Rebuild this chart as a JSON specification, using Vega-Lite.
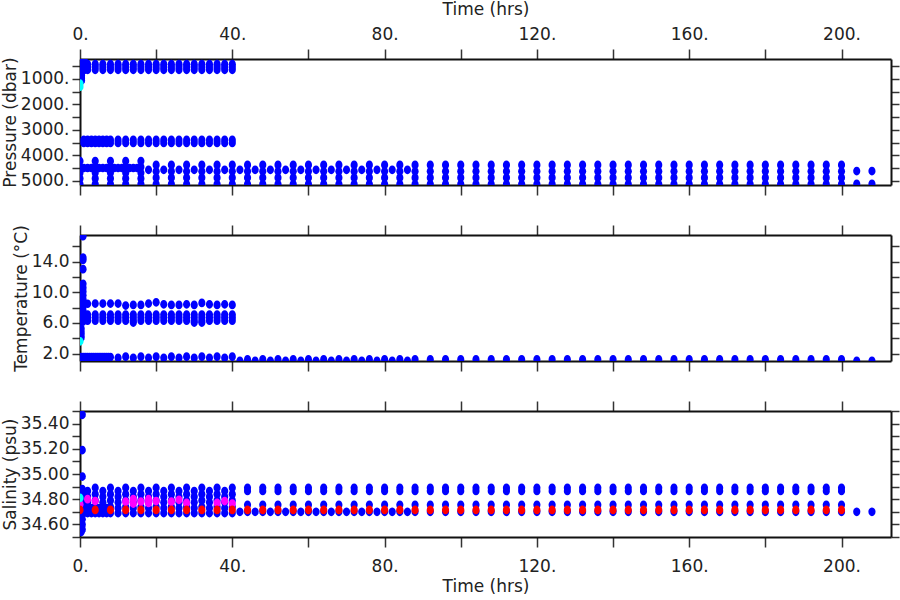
{
"$schema":"https://vega.github.io/schema/vega-lite/v6.json",
"background":"white",
"padding":{"left":1,"top":0,"right":0,"bottom":0},
"bounds":"flush",
"spacing":50,
"config":{"view":{"stroke":null},"font":"DejaVu Sans",
"axis":{"grid":false,"domainColor":"#111","domainWidth":2,"tickColor":"#333","tickWidth":1.5,"labelFont":"DejaVu Sans","labelFontSize":17,"labelColor":"#222","titleFont":"DejaVu Sans","titleFontSize":17,"titleFontWeight":"normal","titleColor":"#222","labelOverlap":false,"labelFlush":false,"labelBound":false}},
"datasets":{
"p":[
{"t":0.4,"v":260,"c":"b"},{"t":0.4,"v":360,"c":"b"},{"t":0.4,"v":460,"c":"b"},{"t":0.4,"v":560,"c":"b"},{"t":0.4,"v":660,"c":"b"},{"t":0.4,"v":760,"c":"b"},{"t":0.4,"v":860,"c":"b"},{"t":0.4,"v":960,"c":"b"},{"t":0.4,"v":1060,"c":"b"},
{"t":1.2,"v":320,"c":"b"},{"t":1.2,"v":480,"c":"b"},{"t":1.2,"v":640,"c":"b"},
{"t":2,"v":420,"c":"b"},{"t":2,"v":530,"c":"b"},{"t":2,"v":640,"c":"b"},
{"t":4,"v":420,"c":"b"},{"t":4,"v":530,"c":"b"},{"t":4,"v":640,"c":"b"},
{"t":6,"v":420,"c":"b"},{"t":6,"v":530,"c":"b"},{"t":6,"v":640,"c":"b"},
{"t":8,"v":420,"c":"b"},{"t":8,"v":530,"c":"b"},{"t":8,"v":640,"c":"b"},
{"t":10,"v":420,"c":"b"},{"t":10,"v":530,"c":"b"},{"t":10,"v":640,"c":"b"},
{"t":12,"v":420,"c":"b"},{"t":12,"v":530,"c":"b"},{"t":12,"v":640,"c":"b"},
{"t":14,"v":420,"c":"b"},{"t":14,"v":530,"c":"b"},{"t":14,"v":640,"c":"b"},
{"t":16,"v":420,"c":"b"},{"t":16,"v":530,"c":"b"},{"t":16,"v":640,"c":"b"},
{"t":18,"v":420,"c":"b"},{"t":18,"v":530,"c":"b"},{"t":18,"v":640,"c":"b"},
{"t":20,"v":420,"c":"b"},{"t":20,"v":530,"c":"b"},{"t":20,"v":640,"c":"b"},
{"t":22,"v":420,"c":"b"},{"t":22,"v":530,"c":"b"},{"t":22,"v":640,"c":"b"},
{"t":24,"v":420,"c":"b"},{"t":24,"v":530,"c":"b"},{"t":24,"v":640,"c":"b"},
{"t":26,"v":420,"c":"b"},{"t":26,"v":530,"c":"b"},{"t":26,"v":640,"c":"b"},
{"t":28,"v":420,"c":"b"},{"t":28,"v":530,"c":"b"},{"t":28,"v":640,"c":"b"},
{"t":30,"v":420,"c":"b"},{"t":30,"v":530,"c":"b"},{"t":30,"v":640,"c":"b"},
{"t":32,"v":420,"c":"b"},{"t":32,"v":530,"c":"b"},{"t":32,"v":640,"c":"b"},
{"t":34,"v":420,"c":"b"},{"t":34,"v":530,"c":"b"},{"t":34,"v":640,"c":"b"},
{"t":36,"v":420,"c":"b"},{"t":36,"v":530,"c":"b"},{"t":36,"v":640,"c":"b"},
{"t":38,"v":420,"c":"b"},{"t":38,"v":530,"c":"b"},{"t":38,"v":640,"c":"b"},
{"t":40,"v":420,"c":"b"},{"t":40,"v":530,"c":"b"},{"t":40,"v":640,"c":"b"},
{"t":1,"v":3390,"c":"b"},{"t":1,"v":3510,"c":"b"},{"t":2,"v":3390,"c":"b"},{"t":2,"v":3510,"c":"b"},
{"t":3,"v":3390,"c":"b"},{"t":3,"v":3510,"c":"b"},{"t":4,"v":3390,"c":"b"},{"t":4,"v":3510,"c":"b"},
{"t":5,"v":3390,"c":"b"},{"t":5,"v":3510,"c":"b"},{"t":6,"v":3390,"c":"b"},{"t":6,"v":3510,"c":"b"},
{"t":7,"v":3390,"c":"b"},{"t":7,"v":3510,"c":"b"},{"t":8,"v":3390,"c":"b"},{"t":8,"v":3510,"c":"b"},
{"t":10,"v":3390,"c":"b"},{"t":10,"v":3510,"c":"b"},{"t":12,"v":3390,"c":"b"},{"t":12,"v":3510,"c":"b"},
{"t":14,"v":3390,"c":"b"},{"t":14,"v":3510,"c":"b"},{"t":16,"v":3390,"c":"b"},{"t":16,"v":3510,"c":"b"},
{"t":18,"v":3390,"c":"b"},{"t":18,"v":3510,"c":"b"},{"t":20,"v":3390,"c":"b"},{"t":20,"v":3510,"c":"b"},
{"t":22,"v":3390,"c":"b"},{"t":22,"v":3510,"c":"b"},{"t":24,"v":3390,"c":"b"},{"t":24,"v":3510,"c":"b"},
{"t":26,"v":3390,"c":"b"},{"t":26,"v":3510,"c":"b"},{"t":28,"v":3390,"c":"b"},{"t":28,"v":3510,"c":"b"},
{"t":30,"v":3390,"c":"b"},{"t":30,"v":3510,"c":"b"},{"t":32,"v":3390,"c":"b"},{"t":32,"v":3510,"c":"b"},
{"t":34,"v":3390,"c":"b"},{"t":34,"v":3510,"c":"b"},{"t":36,"v":3390,"c":"b"},{"t":36,"v":3510,"c":"b"},
{"t":38,"v":3390,"c":"b"},{"t":38,"v":3510,"c":"b"},{"t":40,"v":3390,"c":"b"},{"t":40,"v":3510,"c":"b"},
{"t":0,"v":4220,"c":"b"},{"t":0,"v":4450,"c":"b"},{"t":0,"v":4680,"c":"b"},{"t":0,"v":4900,"c":"b"},{"t":0,"v":5120,"c":"b"},
{"t":4,"v":4220,"c":"b"},{"t":4,"v":4450,"c":"b"},{"t":4,"v":4680,"c":"b"},{"t":4,"v":4900,"c":"b"},{"t":4,"v":5120,"c":"b"},
{"t":8,"v":4220,"c":"b"},{"t":8,"v":4450,"c":"b"},{"t":8,"v":4680,"c":"b"},{"t":8,"v":4900,"c":"b"},{"t":8,"v":5120,"c":"b"},
{"t":12,"v":4220,"c":"b"},{"t":12,"v":4450,"c":"b"},{"t":12,"v":4680,"c":"b"},{"t":12,"v":4900,"c":"b"},{"t":12,"v":5120,"c":"b"},
{"t":16,"v":4220,"c":"b"},{"t":16,"v":4450,"c":"b"},{"t":16,"v":4680,"c":"b"},{"t":16,"v":4900,"c":"b"},{"t":16,"v":5120,"c":"b"},
{"t":20,"v":4370,"c":"b"},{"t":20,"v":4620,"c":"b"},{"t":20,"v":4870,"c":"b"},{"t":20,"v":5120,"c":"b"},
{"t":24,"v":4370,"c":"b"},{"t":24,"v":4620,"c":"b"},{"t":24,"v":4870,"c":"b"},{"t":24,"v":5120,"c":"b"},
{"t":28,"v":4370,"c":"b"},{"t":28,"v":4620,"c":"b"},{"t":28,"v":4870,"c":"b"},{"t":28,"v":5120,"c":"b"},
{"t":32,"v":4370,"c":"b"},{"t":32,"v":4620,"c":"b"},{"t":32,"v":4870,"c":"b"},{"t":32,"v":5120,"c":"b"},
{"t":36,"v":4370,"c":"b"},{"t":36,"v":4620,"c":"b"},{"t":36,"v":4870,"c":"b"},{"t":36,"v":5120,"c":"b"},
{"t":40,"v":4370,"c":"b"},{"t":40,"v":4620,"c":"b"},{"t":40,"v":4870,"c":"b"},{"t":40,"v":5120,"c":"b"},
{"t":44,"v":4370,"c":"b"},{"t":44,"v":4620,"c":"b"},{"t":44,"v":4870,"c":"b"},{"t":44,"v":5120,"c":"b"},
{"t":48,"v":4370,"c":"b"},{"t":48,"v":4620,"c":"b"},{"t":48,"v":4870,"c":"b"},{"t":48,"v":5120,"c":"b"},
{"t":52,"v":4370,"c":"b"},{"t":52,"v":4620,"c":"b"},{"t":52,"v":4870,"c":"b"},{"t":52,"v":5120,"c":"b"},
{"t":56,"v":4370,"c":"b"},{"t":56,"v":4620,"c":"b"},{"t":56,"v":4870,"c":"b"},{"t":56,"v":5120,"c":"b"},
{"t":60,"v":4370,"c":"b"},{"t":60,"v":4620,"c":"b"},{"t":60,"v":4870,"c":"b"},{"t":60,"v":5120,"c":"b"},
{"t":64,"v":4370,"c":"b"},{"t":64,"v":4620,"c":"b"},{"t":64,"v":4870,"c":"b"},{"t":64,"v":5120,"c":"b"},
{"t":68,"v":4370,"c":"b"},{"t":68,"v":4620,"c":"b"},{"t":68,"v":4870,"c":"b"},{"t":68,"v":5120,"c":"b"},
{"t":72,"v":4370,"c":"b"},{"t":72,"v":4620,"c":"b"},{"t":72,"v":4870,"c":"b"},{"t":72,"v":5120,"c":"b"},
{"t":76,"v":4370,"c":"b"},{"t":76,"v":4620,"c":"b"},{"t":76,"v":4870,"c":"b"},{"t":76,"v":5120,"c":"b"},
{"t":80,"v":4370,"c":"b"},{"t":80,"v":4620,"c":"b"},{"t":80,"v":4870,"c":"b"},{"t":80,"v":5120,"c":"b"},
{"t":84,"v":4370,"c":"b"},{"t":84,"v":4620,"c":"b"},{"t":84,"v":4870,"c":"b"},{"t":84,"v":5120,"c":"b"},
{"t":88,"v":4370,"c":"b"},{"t":88,"v":4620,"c":"b"},{"t":88,"v":4870,"c":"b"},{"t":88,"v":5120,"c":"b"},
{"t":92,"v":4370,"c":"b"},{"t":92,"v":4620,"c":"b"},{"t":92,"v":4870,"c":"b"},{"t":92,"v":5120,"c":"b"},
{"t":96,"v":4370,"c":"b"},{"t":96,"v":4620,"c":"b"},{"t":96,"v":4870,"c":"b"},{"t":96,"v":5120,"c":"b"},
{"t":100,"v":4370,"c":"b"},{"t":100,"v":4620,"c":"b"},{"t":100,"v":4870,"c":"b"},{"t":100,"v":5120,"c":"b"},
{"t":104,"v":4370,"c":"b"},{"t":104,"v":4620,"c":"b"},{"t":104,"v":4870,"c":"b"},{"t":104,"v":5120,"c":"b"},
{"t":108,"v":4370,"c":"b"},{"t":108,"v":4620,"c":"b"},{"t":108,"v":4870,"c":"b"},{"t":108,"v":5120,"c":"b"},
{"t":112,"v":4370,"c":"b"},{"t":112,"v":4620,"c":"b"},{"t":112,"v":4870,"c":"b"},{"t":112,"v":5120,"c":"b"},
{"t":116,"v":4370,"c":"b"},{"t":116,"v":4620,"c":"b"},{"t":116,"v":4870,"c":"b"},{"t":116,"v":5120,"c":"b"},
{"t":120,"v":4370,"c":"b"},{"t":120,"v":4620,"c":"b"},{"t":120,"v":4870,"c":"b"},{"t":120,"v":5120,"c":"b"},
{"t":124,"v":4370,"c":"b"},{"t":124,"v":4620,"c":"b"},{"t":124,"v":4870,"c":"b"},{"t":124,"v":5120,"c":"b"},
{"t":128,"v":4370,"c":"b"},{"t":128,"v":4620,"c":"b"},{"t":128,"v":4870,"c":"b"},{"t":128,"v":5120,"c":"b"},
{"t":132,"v":4370,"c":"b"},{"t":132,"v":4620,"c":"b"},{"t":132,"v":4870,"c":"b"},{"t":132,"v":5120,"c":"b"},
{"t":136,"v":4370,"c":"b"},{"t":136,"v":4620,"c":"b"},{"t":136,"v":4870,"c":"b"},{"t":136,"v":5120,"c":"b"},
{"t":140,"v":4370,"c":"b"},{"t":140,"v":4620,"c":"b"},{"t":140,"v":4870,"c":"b"},{"t":140,"v":5120,"c":"b"},
{"t":144,"v":4370,"c":"b"},{"t":144,"v":4620,"c":"b"},{"t":144,"v":4870,"c":"b"},{"t":144,"v":5120,"c":"b"},
{"t":148,"v":4370,"c":"b"},{"t":148,"v":4620,"c":"b"},{"t":148,"v":4870,"c":"b"},{"t":148,"v":5120,"c":"b"},
{"t":152,"v":4370,"c":"b"},{"t":152,"v":4620,"c":"b"},{"t":152,"v":4870,"c":"b"},{"t":152,"v":5120,"c":"b"},
{"t":156,"v":4370,"c":"b"},{"t":156,"v":4620,"c":"b"},{"t":156,"v":4870,"c":"b"},{"t":156,"v":5120,"c":"b"},
{"t":160,"v":4370,"c":"b"},{"t":160,"v":4620,"c":"b"},{"t":160,"v":4870,"c":"b"},{"t":160,"v":5120,"c":"b"},
{"t":164,"v":4370,"c":"b"},{"t":164,"v":4620,"c":"b"},{"t":164,"v":4870,"c":"b"},{"t":164,"v":5120,"c":"b"},
{"t":168,"v":4370,"c":"b"},{"t":168,"v":4620,"c":"b"},{"t":168,"v":4870,"c":"b"},{"t":168,"v":5120,"c":"b"},
{"t":172,"v":4370,"c":"b"},{"t":172,"v":4620,"c":"b"},{"t":172,"v":4870,"c":"b"},{"t":172,"v":5120,"c":"b"},
{"t":176,"v":4370,"c":"b"},{"t":176,"v":4620,"c":"b"},{"t":176,"v":4870,"c":"b"},{"t":176,"v":5120,"c":"b"},
{"t":180,"v":4370,"c":"b"},{"t":180,"v":4620,"c":"b"},{"t":180,"v":4870,"c":"b"},{"t":180,"v":5120,"c":"b"},
{"t":184,"v":4370,"c":"b"},{"t":184,"v":4620,"c":"b"},{"t":184,"v":4870,"c":"b"},{"t":184,"v":5120,"c":"b"},
{"t":188,"v":4370,"c":"b"},{"t":188,"v":4620,"c":"b"},{"t":188,"v":4870,"c":"b"},{"t":188,"v":5120,"c":"b"},
{"t":192,"v":4370,"c":"b"},{"t":192,"v":4620,"c":"b"},{"t":192,"v":4870,"c":"b"},{"t":192,"v":5120,"c":"b"},
{"t":196,"v":4370,"c":"b"},{"t":196,"v":4620,"c":"b"},{"t":196,"v":4870,"c":"b"},{"t":196,"v":5120,"c":"b"},
{"t":200,"v":4370,"c":"b"},{"t":200,"v":4620,"c":"b"},{"t":200,"v":4870,"c":"b"},{"t":200,"v":5120,"c":"b"},
{"t":1,"v":4490,"c":"b"},{"t":2,"v":4490,"c":"b"},{"t":3,"v":4490,"c":"b"},{"t":5,"v":4490,"c":"b"},{"t":6,"v":4490,"c":"b"},{"t":7,"v":4490,"c":"b"},
{"t":9,"v":4490,"c":"b"},{"t":10,"v":4490,"c":"b"},{"t":11,"v":4490,"c":"b"},{"t":13,"v":4490,"c":"b"},{"t":14,"v":4490,"c":"b"},{"t":15,"v":4490,"c":"b"},
{"t":18,"v":4560,"c":"b"},{"t":22,"v":4560,"c":"b"},{"t":26,"v":4560,"c":"b"},{"t":30,"v":4560,"c":"b"},{"t":34,"v":4560,"c":"b"},{"t":38,"v":4560,"c":"b"},
{"t":42,"v":4560,"c":"b"},{"t":46,"v":4560,"c":"b"},{"t":50,"v":4560,"c":"b"},{"t":54,"v":4560,"c":"b"},{"t":58,"v":4560,"c":"b"},{"t":62,"v":4560,"c":"b"},
{"t":66,"v":4560,"c":"b"},{"t":70,"v":4560,"c":"b"},{"t":74,"v":4560,"c":"b"},{"t":78,"v":4560,"c":"b"},{"t":82,"v":4560,"c":"b"},{"t":86,"v":4560,"c":"b"},
{"t":204,"v":4610,"c":"b"},{"t":204,"v":5110,"c":"b"},{"t":208,"v":4610,"c":"b"},{"t":208,"v":5110,"c":"b"},
{"t":0,"v":1180,"c":"c"},{"t":0,"v":1300,"c":"c"}
],
"T":[
{"t":0.8,"v":17.3,"c":"b"},{"t":0.8,"v":14.5,"c":"b"},{"t":0.8,"v":14.2,"c":"b"},{"t":0.8,"v":13.0,"c":"b"},{"t":0.8,"v":11.1,"c":"b"},{"t":0.8,"v":10.6,"c":"b"},{"t":0.8,"v":10.1,"c":"b"},{"t":0.8,"v":9.6,"c":"b"},{"t":0.8,"v":9.1,"c":"b"},{"t":0.8,"v":8.6,"c":"b"},{"t":0.8,"v":8.1,"c":"b"},{"t":0.8,"v":7.6,"c":"b"},{"t":0.8,"v":7.1,"c":"b"},{"t":0.8,"v":6.6,"c":"b"},{"t":0.8,"v":6.2,"c":"b"},
{"t":0.3,"v":5.3,"c":"b"},{"t":0.3,"v":4.9,"c":"b"},{"t":0.3,"v":4.5,"c":"b"},{"t":0.3,"v":4.1,"c":"b"},
{"t":2,"v":8.5,"c":"b"},{"t":4,"v":8.52,"c":"b"},{"t":6,"v":8.52,"c":"b"},{"t":8,"v":8.52,"c":"b"},{"t":10,"v":8.52,"c":"b"},{"t":12,"v":8.26,"c":"b"},{"t":14,"v":8.35,"c":"b"},{"t":16,"v":8.35,"c":"b"},{"t":18,"v":8.52,"c":"b"},{"t":20,"v":8.69,"c":"b"},
{"t":22,"v":8.43,"c":"b"},{"t":24,"v":8.35,"c":"b"},{"t":26,"v":8.35,"c":"b"},{"t":28,"v":8.43,"c":"b"},{"t":30,"v":8.35,"c":"b"},{"t":32,"v":8.61,"c":"b"},{"t":34,"v":8.43,"c":"b"},{"t":36,"v":8.35,"c":"b"},{"t":38,"v":8.43,"c":"b"},{"t":40,"v":8.35,"c":"b"},
{"t":2,"v":7.1,"c":"b"},{"t":2,"v":6.7,"c":"b"},{"t":2,"v":6.3,"c":"b"},
{"t":4,"v":7.1,"c":"b"},{"t":4,"v":6.7,"c":"b"},{"t":4,"v":6.3,"c":"b"},
{"t":6,"v":7.1,"c":"b"},{"t":6,"v":6.7,"c":"b"},{"t":6,"v":6.3,"c":"b"},
{"t":8,"v":7.1,"c":"b"},{"t":8,"v":6.7,"c":"b"},{"t":8,"v":6.3,"c":"b"},
{"t":10,"v":7.1,"c":"b"},{"t":10,"v":6.7,"c":"b"},{"t":10,"v":6.3,"c":"b"},
{"t":12,"v":7.1,"c":"b"},{"t":12,"v":6.7,"c":"b"},{"t":12,"v":6.3,"c":"b"},
{"t":14,"v":7.1,"c":"b"},{"t":14,"v":6.7,"c":"b"},{"t":14,"v":6.3,"c":"b"},{"t":14,"v":6.05,"c":"b"},
{"t":16,"v":7.1,"c":"b"},{"t":16,"v":6.7,"c":"b"},{"t":16,"v":6.3,"c":"b"},
{"t":18,"v":7.1,"c":"b"},{"t":18,"v":6.7,"c":"b"},{"t":18,"v":6.3,"c":"b"},
{"t":20,"v":7.1,"c":"b"},{"t":20,"v":6.7,"c":"b"},{"t":20,"v":6.3,"c":"b"},
{"t":22,"v":7.1,"c":"b"},{"t":22,"v":6.7,"c":"b"},{"t":22,"v":6.3,"c":"b"},
{"t":24,"v":7.1,"c":"b"},{"t":24,"v":6.7,"c":"b"},{"t":24,"v":6.3,"c":"b"},
{"t":26,"v":7.1,"c":"b"},{"t":26,"v":6.7,"c":"b"},{"t":26,"v":6.3,"c":"b"},
{"t":28,"v":7.1,"c":"b"},{"t":28,"v":6.7,"c":"b"},{"t":28,"v":6.3,"c":"b"},
{"t":30,"v":7.1,"c":"b"},{"t":30,"v":6.7,"c":"b"},{"t":30,"v":6.3,"c":"b"},{"t":30,"v":6.05,"c":"b"},
{"t":32,"v":7.1,"c":"b"},{"t":32,"v":6.7,"c":"b"},{"t":32,"v":6.3,"c":"b"},{"t":32,"v":6.05,"c":"b"},
{"t":34,"v":7.1,"c":"b"},{"t":34,"v":6.7,"c":"b"},{"t":34,"v":6.3,"c":"b"},
{"t":36,"v":7.1,"c":"b"},{"t":36,"v":6.7,"c":"b"},{"t":36,"v":6.3,"c":"b"},
{"t":38,"v":7.1,"c":"b"},{"t":38,"v":6.7,"c":"b"},{"t":38,"v":6.3,"c":"b"},
{"t":40,"v":7.1,"c":"b"},{"t":40,"v":6.7,"c":"b"},{"t":40,"v":6.3,"c":"b"},
{"t":0,"v":1.55,"c":"b"},{"t":0.5,"v":1.55,"c":"b"},{"t":1,"v":1.55,"c":"b"},{"t":1.5,"v":1.55,"c":"b"},{"t":2,"v":1.55,"c":"b"},{"t":2.5,"v":1.55,"c":"b"},{"t":3,"v":1.55,"c":"b"},{"t":3.5,"v":1.55,"c":"b"},{"t":4,"v":1.55,"c":"b"},
{"t":4.5,"v":1.55,"c":"b"},{"t":5,"v":1.55,"c":"b"},{"t":5.5,"v":1.55,"c":"b"},{"t":6,"v":1.55,"c":"b"},{"t":6.5,"v":1.55,"c":"b"},{"t":7,"v":1.55,"c":"b"},{"t":7.5,"v":1.55,"c":"b"},{"t":8,"v":1.55,"c":"b"},
{"t":10,"v":1.45,"c":"b"},{"t":12,"v":1.6,"c":"b"},{"t":14,"v":1.45,"c":"b"},{"t":16,"v":1.6,"c":"b"},{"t":18,"v":1.45,"c":"b"},{"t":20,"v":1.6,"c":"b"},{"t":22,"v":1.45,"c":"b"},{"t":24,"v":1.6,"c":"b"},
{"t":26,"v":1.45,"c":"b"},{"t":28,"v":1.6,"c":"b"},{"t":30,"v":1.45,"c":"b"},{"t":32,"v":1.6,"c":"b"},{"t":34,"v":1.45,"c":"b"},{"t":36,"v":1.6,"c":"b"},{"t":38,"v":1.45,"c":"b"},{"t":40,"v":1.6,"c":"b"},
{"t":42,"v":1.05,"c":"b"},{"t":46,"v":1.05,"c":"b"},{"t":50,"v":1.05,"c":"b"},{"t":54,"v":1.05,"c":"b"},{"t":58,"v":1.05,"c":"b"},{"t":62,"v":1.05,"c":"b"},
{"t":66,"v":1.05,"c":"b"},{"t":70,"v":1.05,"c":"b"},{"t":74,"v":1.05,"c":"b"},{"t":78,"v":1.05,"c":"b"},{"t":82,"v":1.05,"c":"b"},{"t":86,"v":1.05,"c":"b"},
{"t":44,"v":1.25,"c":"b"},{"t":48,"v":1.25,"c":"b"},{"t":52,"v":1.25,"c":"b"},{"t":56,"v":1.25,"c":"b"},{"t":60,"v":1.25,"c":"b"},{"t":64,"v":1.25,"c":"b"},{"t":68,"v":1.25,"c":"b"},{"t":72,"v":1.25,"c":"b"},
{"t":76,"v":1.25,"c":"b"},{"t":80,"v":1.25,"c":"b"},{"t":84,"v":1.25,"c":"b"},{"t":88,"v":1.25,"c":"b"},{"t":92,"v":1.25,"c":"b"},{"t":96,"v":1.25,"c":"b"},{"t":100,"v":1.25,"c":"b"},{"t":104,"v":1.25,"c":"b"},
{"t":108,"v":1.25,"c":"b"},{"t":112,"v":1.25,"c":"b"},{"t":116,"v":1.25,"c":"b"},{"t":120,"v":1.25,"c":"b"},{"t":124,"v":1.25,"c":"b"},{"t":128,"v":1.25,"c":"b"},{"t":132,"v":1.25,"c":"b"},{"t":136,"v":1.25,"c":"b"},
{"t":140,"v":1.25,"c":"b"},{"t":144,"v":1.25,"c":"b"},{"t":148,"v":1.25,"c":"b"},{"t":152,"v":1.25,"c":"b"},{"t":156,"v":1.25,"c":"b"},{"t":160,"v":1.25,"c":"b"},{"t":164,"v":1.25,"c":"b"},{"t":168,"v":1.25,"c":"b"},
{"t":172,"v":1.25,"c":"b"},{"t":176,"v":1.25,"c":"b"},{"t":180,"v":1.25,"c":"b"},{"t":184,"v":1.25,"c":"b"},{"t":188,"v":1.25,"c":"b"},{"t":192,"v":1.25,"c":"b"},{"t":196,"v":1.25,"c":"b"},{"t":200,"v":1.25,"c":"b"},
{"t":204,"v":1.05,"c":"b"},{"t":208,"v":1.05,"c":"b"},
{"t":0,"v":3.6,"c":"c"}
],
"s":[
{"t":0.6,"v":35.47,"c":"b"},{"t":0.6,"v":35.19,"c":"b"},{"t":0.6,"v":34.98,"c":"b"},{"t":0.6,"v":34.88,"c":"b"},{"t":0.6,"v":34.84,"c":"b"},{"t":0.6,"v":34.80,"c":"b"},{"t":0.6,"v":34.76,"c":"b"},{"t":0.6,"v":34.72,"c":"b"},{"t":0.6,"v":34.68,"c":"b"},{"t":0.6,"v":34.64,"c":"b"},{"t":0.6,"v":34.60,"c":"b"},{"t":0.6,"v":34.56,"c":"b"},
{"t":0.3,"v":34.62,"c":"b"},{"t":0.3,"v":34.58,"c":"b"},{"t":0.3,"v":34.54,"c":"b"},
{"t":1,"v":34.69,"c":"b"},{"t":1,"v":34.73,"c":"b"},{"t":3,"v":34.69,"c":"b"},{"t":3,"v":34.73,"c":"b"},{"t":5,"v":34.69,"c":"b"},{"t":5,"v":34.73,"c":"b"},{"t":7,"v":34.69,"c":"b"},{"t":7,"v":34.73,"c":"b"},
{"t":2,"v":34.69,"c":"b"},{"t":2,"v":34.73,"c":"b"},{"t":2,"v":34.775,"c":"b"},{"t":2,"v":34.82,"c":"b"},{"t":2,"v":34.865,"c":"b"},
{"t":4,"v":34.69,"c":"b"},{"t":4,"v":34.74,"c":"b"},{"t":4,"v":34.79,"c":"b"},{"t":4,"v":34.84,"c":"b"},{"t":4,"v":34.89,"c":"b"},
{"t":6,"v":34.69,"c":"b"},{"t":6,"v":34.73,"c":"b"},{"t":6,"v":34.775,"c":"b"},{"t":6,"v":34.82,"c":"b"},{"t":6,"v":34.865,"c":"b"},
{"t":8,"v":34.69,"c":"b"},{"t":8,"v":34.74,"c":"b"},{"t":8,"v":34.79,"c":"b"},{"t":8,"v":34.84,"c":"b"},{"t":8,"v":34.89,"c":"b"},
{"t":10,"v":34.69,"c":"b"},{"t":10,"v":34.73,"c":"b"},{"t":10,"v":34.775,"c":"b"},{"t":10,"v":34.82,"c":"b"},{"t":10,"v":34.865,"c":"b"},
{"t":12,"v":34.69,"c":"b"},{"t":12,"v":34.74,"c":"b"},{"t":12,"v":34.79,"c":"b"},{"t":12,"v":34.84,"c":"b"},{"t":12,"v":34.89,"c":"b"},
{"t":14,"v":34.69,"c":"b"},{"t":14,"v":34.73,"c":"b"},{"t":14,"v":34.775,"c":"b"},{"t":14,"v":34.82,"c":"b"},{"t":14,"v":34.865,"c":"b"},
{"t":16,"v":34.69,"c":"b"},{"t":16,"v":34.74,"c":"b"},{"t":16,"v":34.79,"c":"b"},{"t":16,"v":34.84,"c":"b"},{"t":16,"v":34.89,"c":"b"},
{"t":18,"v":34.69,"c":"b"},{"t":18,"v":34.73,"c":"b"},{"t":18,"v":34.775,"c":"b"},{"t":18,"v":34.82,"c":"b"},{"t":18,"v":34.865,"c":"b"},
{"t":20,"v":34.69,"c":"b"},{"t":20,"v":34.74,"c":"b"},{"t":20,"v":34.79,"c":"b"},{"t":20,"v":34.84,"c":"b"},{"t":20,"v":34.89,"c":"b"},
{"t":22,"v":34.69,"c":"b"},{"t":22,"v":34.73,"c":"b"},{"t":22,"v":34.775,"c":"b"},{"t":22,"v":34.82,"c":"b"},{"t":22,"v":34.865,"c":"b"},
{"t":24,"v":34.69,"c":"b"},{"t":24,"v":34.74,"c":"b"},{"t":24,"v":34.79,"c":"b"},{"t":24,"v":34.84,"c":"b"},{"t":24,"v":34.89,"c":"b"},
{"t":26,"v":34.69,"c":"b"},{"t":26,"v":34.73,"c":"b"},{"t":26,"v":34.775,"c":"b"},{"t":26,"v":34.82,"c":"b"},{"t":26,"v":34.865,"c":"b"},
{"t":28,"v":34.69,"c":"b"},{"t":28,"v":34.74,"c":"b"},{"t":28,"v":34.79,"c":"b"},{"t":28,"v":34.84,"c":"b"},{"t":28,"v":34.89,"c":"b"},
{"t":30,"v":34.69,"c":"b"},{"t":30,"v":34.73,"c":"b"},{"t":30,"v":34.775,"c":"b"},{"t":30,"v":34.82,"c":"b"},{"t":30,"v":34.865,"c":"b"},
{"t":32,"v":34.69,"c":"b"},{"t":32,"v":34.74,"c":"b"},{"t":32,"v":34.79,"c":"b"},{"t":32,"v":34.84,"c":"b"},{"t":32,"v":34.89,"c":"b"},
{"t":34,"v":34.69,"c":"b"},{"t":34,"v":34.73,"c":"b"},{"t":34,"v":34.775,"c":"b"},{"t":34,"v":34.82,"c":"b"},{"t":34,"v":34.865,"c":"b"},
{"t":36,"v":34.69,"c":"b"},{"t":36,"v":34.74,"c":"b"},{"t":36,"v":34.79,"c":"b"},{"t":36,"v":34.84,"c":"b"},{"t":36,"v":34.89,"c":"b"},
{"t":38,"v":34.69,"c":"b"},{"t":38,"v":34.73,"c":"b"},{"t":38,"v":34.775,"c":"b"},{"t":38,"v":34.82,"c":"b"},{"t":38,"v":34.865,"c":"b"},
{"t":40,"v":34.69,"c":"b"},{"t":40,"v":34.74,"c":"b"},{"t":40,"v":34.79,"c":"b"},{"t":40,"v":34.84,"c":"b"},{"t":40,"v":34.89,"c":"b"},
{"t":44,"v":34.89,"c":"b"},{"t":44,"v":34.865,"c":"b"},{"t":44,"v":34.755,"c":"b"},{"t":44,"v":34.70,"c":"b"},
{"t":48,"v":34.89,"c":"b"},{"t":48,"v":34.865,"c":"b"},{"t":48,"v":34.755,"c":"b"},{"t":48,"v":34.70,"c":"b"},
{"t":52,"v":34.89,"c":"b"},{"t":52,"v":34.865,"c":"b"},{"t":52,"v":34.755,"c":"b"},{"t":52,"v":34.70,"c":"b"},
{"t":56,"v":34.89,"c":"b"},{"t":56,"v":34.865,"c":"b"},{"t":56,"v":34.755,"c":"b"},{"t":56,"v":34.70,"c":"b"},
{"t":60,"v":34.89,"c":"b"},{"t":60,"v":34.865,"c":"b"},{"t":60,"v":34.755,"c":"b"},{"t":60,"v":34.70,"c":"b"},
{"t":64,"v":34.89,"c":"b"},{"t":64,"v":34.865,"c":"b"},{"t":64,"v":34.755,"c":"b"},{"t":64,"v":34.70,"c":"b"},
{"t":68,"v":34.89,"c":"b"},{"t":68,"v":34.865,"c":"b"},{"t":68,"v":34.755,"c":"b"},{"t":68,"v":34.70,"c":"b"},
{"t":72,"v":34.89,"c":"b"},{"t":72,"v":34.865,"c":"b"},{"t":72,"v":34.755,"c":"b"},{"t":72,"v":34.70,"c":"b"},
{"t":76,"v":34.89,"c":"b"},{"t":76,"v":34.865,"c":"b"},{"t":76,"v":34.755,"c":"b"},{"t":76,"v":34.70,"c":"b"},
{"t":80,"v":34.89,"c":"b"},{"t":80,"v":34.865,"c":"b"},{"t":80,"v":34.755,"c":"b"},{"t":80,"v":34.70,"c":"b"},
{"t":84,"v":34.89,"c":"b"},{"t":84,"v":34.865,"c":"b"},{"t":84,"v":34.755,"c":"b"},{"t":84,"v":34.70,"c":"b"},
{"t":88,"v":34.89,"c":"b"},{"t":88,"v":34.865,"c":"b"},{"t":88,"v":34.755,"c":"b"},{"t":88,"v":34.70,"c":"b"},
{"t":92,"v":34.89,"c":"b"},{"t":92,"v":34.865,"c":"b"},{"t":92,"v":34.755,"c":"b"},{"t":92,"v":34.70,"c":"b"},
{"t":96,"v":34.89,"c":"b"},{"t":96,"v":34.865,"c":"b"},{"t":96,"v":34.755,"c":"b"},{"t":96,"v":34.70,"c":"b"},
{"t":100,"v":34.89,"c":"b"},{"t":100,"v":34.865,"c":"b"},{"t":100,"v":34.755,"c":"b"},{"t":100,"v":34.70,"c":"b"},
{"t":104,"v":34.89,"c":"b"},{"t":104,"v":34.865,"c":"b"},{"t":104,"v":34.755,"c":"b"},{"t":104,"v":34.70,"c":"b"},
{"t":108,"v":34.89,"c":"b"},{"t":108,"v":34.865,"c":"b"},{"t":108,"v":34.755,"c":"b"},{"t":108,"v":34.70,"c":"b"},
{"t":112,"v":34.89,"c":"b"},{"t":112,"v":34.865,"c":"b"},{"t":112,"v":34.755,"c":"b"},{"t":112,"v":34.70,"c":"b"},
{"t":116,"v":34.89,"c":"b"},{"t":116,"v":34.865,"c":"b"},{"t":116,"v":34.755,"c":"b"},{"t":116,"v":34.70,"c":"b"},
{"t":120,"v":34.89,"c":"b"},{"t":120,"v":34.865,"c":"b"},{"t":120,"v":34.755,"c":"b"},{"t":120,"v":34.70,"c":"b"},
{"t":124,"v":34.89,"c":"b"},{"t":124,"v":34.865,"c":"b"},{"t":124,"v":34.755,"c":"b"},{"t":124,"v":34.70,"c":"b"},
{"t":128,"v":34.89,"c":"b"},{"t":128,"v":34.865,"c":"b"},{"t":128,"v":34.755,"c":"b"},{"t":128,"v":34.70,"c":"b"},
{"t":132,"v":34.89,"c":"b"},{"t":132,"v":34.865,"c":"b"},{"t":132,"v":34.755,"c":"b"},{"t":132,"v":34.70,"c":"b"},
{"t":136,"v":34.89,"c":"b"},{"t":136,"v":34.865,"c":"b"},{"t":136,"v":34.755,"c":"b"},{"t":136,"v":34.70,"c":"b"},
{"t":140,"v":34.89,"c":"b"},{"t":140,"v":34.865,"c":"b"},{"t":140,"v":34.755,"c":"b"},{"t":140,"v":34.70,"c":"b"},
{"t":144,"v":34.89,"c":"b"},{"t":144,"v":34.865,"c":"b"},{"t":144,"v":34.755,"c":"b"},{"t":144,"v":34.70,"c":"b"},
{"t":148,"v":34.89,"c":"b"},{"t":148,"v":34.865,"c":"b"},{"t":148,"v":34.755,"c":"b"},{"t":148,"v":34.70,"c":"b"},
{"t":152,"v":34.89,"c":"b"},{"t":152,"v":34.865,"c":"b"},{"t":152,"v":34.755,"c":"b"},{"t":152,"v":34.70,"c":"b"},
{"t":156,"v":34.89,"c":"b"},{"t":156,"v":34.865,"c":"b"},{"t":156,"v":34.755,"c":"b"},{"t":156,"v":34.70,"c":"b"},
{"t":160,"v":34.89,"c":"b"},{"t":160,"v":34.865,"c":"b"},{"t":160,"v":34.755,"c":"b"},{"t":160,"v":34.70,"c":"b"},
{"t":164,"v":34.89,"c":"b"},{"t":164,"v":34.865,"c":"b"},{"t":164,"v":34.755,"c":"b"},{"t":164,"v":34.70,"c":"b"},
{"t":168,"v":34.89,"c":"b"},{"t":168,"v":34.865,"c":"b"},{"t":168,"v":34.755,"c":"b"},{"t":168,"v":34.70,"c":"b"},
{"t":172,"v":34.89,"c":"b"},{"t":172,"v":34.865,"c":"b"},{"t":172,"v":34.755,"c":"b"},{"t":172,"v":34.70,"c":"b"},
{"t":176,"v":34.89,"c":"b"},{"t":176,"v":34.865,"c":"b"},{"t":176,"v":34.755,"c":"b"},{"t":176,"v":34.70,"c":"b"},
{"t":180,"v":34.89,"c":"b"},{"t":180,"v":34.865,"c":"b"},{"t":180,"v":34.755,"c":"b"},{"t":180,"v":34.70,"c":"b"},
{"t":184,"v":34.89,"c":"b"},{"t":184,"v":34.865,"c":"b"},{"t":184,"v":34.755,"c":"b"},{"t":184,"v":34.70,"c":"b"},
{"t":188,"v":34.89,"c":"b"},{"t":188,"v":34.865,"c":"b"},{"t":188,"v":34.755,"c":"b"},{"t":188,"v":34.70,"c":"b"},
{"t":192,"v":34.89,"c":"b"},{"t":192,"v":34.865,"c":"b"},{"t":192,"v":34.755,"c":"b"},{"t":192,"v":34.70,"c":"b"},
{"t":196,"v":34.89,"c":"b"},{"t":196,"v":34.865,"c":"b"},{"t":196,"v":34.755,"c":"b"},{"t":196,"v":34.70,"c":"b"},
{"t":200,"v":34.89,"c":"b"},{"t":200,"v":34.865,"c":"b"},{"t":200,"v":34.755,"c":"b"},{"t":200,"v":34.70,"c":"b"},
{"t":42,"v":34.70,"c":"b"},{"t":46,"v":34.70,"c":"b"},{"t":50,"v":34.70,"c":"b"},{"t":54,"v":34.70,"c":"b"},{"t":58,"v":34.70,"c":"b"},{"t":62,"v":34.70,"c":"b"},
{"t":66,"v":34.70,"c":"b"},{"t":70,"v":34.70,"c":"b"},{"t":74,"v":34.70,"c":"b"},{"t":78,"v":34.70,"c":"b"},{"t":82,"v":34.70,"c":"b"},{"t":86,"v":34.70,"c":"b"},
{"t":204,"v":34.70,"c":"b"},{"t":208,"v":34.70,"c":"b"},
{"t":0,"v":34.76,"c":"m"},{"t":2,"v":34.80,"c":"m"},{"t":4,"v":34.785,"c":"m"},{"t":12,"v":34.78,"c":"m"},{"t":14,"v":34.80,"c":"m"},{"t":14,"v":34.765,"c":"m"},{"t":16,"v":34.78,"c":"m"},
{"t":18,"v":34.80,"c":"m"},{"t":18,"v":34.77,"c":"m"},{"t":20,"v":34.785,"c":"m"},{"t":24,"v":34.78,"c":"m"},{"t":26,"v":34.795,"c":"m"},{"t":28,"v":34.77,"c":"m"},{"t":36,"v":34.77,"c":"m"},{"t":38,"v":34.785,"c":"m"},{"t":40,"v":34.765,"c":"m"},
{"t":0,"v":34.81,"c":"c"},
{"t":0,"v":34.715,"c":"r"},{"t":4,"v":34.715,"c":"r"},{"t":8,"v":34.715,"c":"r"},{"t":12,"v":34.715,"c":"r"},{"t":16,"v":34.715,"c":"r"},{"t":20,"v":34.715,"c":"r"},{"t":24,"v":34.715,"c":"r"},{"t":28,"v":34.715,"c":"r"},
{"t":32,"v":34.715,"c":"r"},{"t":36,"v":34.715,"c":"r"},{"t":40,"v":34.715,"c":"r"},{"t":44,"v":34.715,"c":"r"},{"t":48,"v":34.715,"c":"r"},{"t":52,"v":34.715,"c":"r"},{"t":56,"v":34.715,"c":"r"},{"t":60,"v":34.715,"c":"r"},
{"t":64,"v":34.715,"c":"r"},{"t":68,"v":34.715,"c":"r"},{"t":72,"v":34.715,"c":"r"},{"t":76,"v":34.715,"c":"r"},{"t":80,"v":34.715,"c":"r"},{"t":84,"v":34.715,"c":"r"},{"t":88,"v":34.715,"c":"r"},{"t":92,"v":34.715,"c":"r"},
{"t":96,"v":34.715,"c":"r"},{"t":100,"v":34.715,"c":"r"},{"t":104,"v":34.715,"c":"r"},{"t":108,"v":34.715,"c":"r"},{"t":112,"v":34.715,"c":"r"},{"t":116,"v":34.715,"c":"r"},{"t":120,"v":34.715,"c":"r"},{"t":124,"v":34.715,"c":"r"},
{"t":128,"v":34.715,"c":"r"},{"t":132,"v":34.715,"c":"r"},{"t":136,"v":34.715,"c":"r"},{"t":140,"v":34.715,"c":"r"},{"t":144,"v":34.715,"c":"r"},{"t":148,"v":34.715,"c":"r"},{"t":152,"v":34.715,"c":"r"},{"t":156,"v":34.715,"c":"r"},
{"t":160,"v":34.715,"c":"r"},{"t":164,"v":34.715,"c":"r"},{"t":168,"v":34.715,"c":"r"},{"t":172,"v":34.715,"c":"r"},{"t":176,"v":34.715,"c":"r"},{"t":180,"v":34.715,"c":"r"},{"t":184,"v":34.715,"c":"r"},{"t":188,"v":34.715,"c":"r"},
{"t":192,"v":34.715,"c":"r"},{"t":196,"v":34.715,"c":"r"},{"t":200,"v":34.715,"c":"r"}
]
},
"vconcat":[
{"width":811,"height":126,"data":{"name":"p"},
"layer":[
{"mark":{"type":"point","shape":"M-0.82,0A0.82,1,0,1,1,0.82,0A0.82,1,0,1,1,-0.82,0Z","filled":true,"size":76,"opacity":1,"strokeWidth":0,"clip":true},
"encoding":{
"x":{"field":"t","type":"quantitative","scale":{"domain":[0,213],"nice":false,"zero":false},"axis":{"orient":"top","title":"Time (hrs)","values":[0,20,40,60,80,100,120,140,160,180,200],"labelExpr":"datum.value % 40 == 0 ? datum.value + '.' : ''","tickSize":10,"labelPadding":6,"titlePadding":7}},
"y":{"field":"v","type":"quantitative","scale":{"domain":[216,5157],"reverse":true,"nice":false,"zero":false},"axis":{"orient":"left","title":"Pressure (dbar)","values":[500,1000,1500,2000,2500,3000,3500,4000,4500,5000],"labelExpr":"datum.value % 1000 == 0 ? datum.value + '.' : ''","tickSize":8,"labelPadding":3,"titlePadding":1}},
"color":{"field":"c","type":"nominal","scale":{"domain":["b","m","c","r"],"range":["#0000ff","#ff00ff","#00ffff","#ff0000"]},"legend":null}}},
{"transform":[{"filter":"datum.t == 0"}],"mark":{"type":"point","opacity":0},
"encoding":{
"x":{"field":"t","type":"quantitative","scale":{"domain":[0,213],"nice":false,"zero":false},"axis":{"orient":"bottom","title":null,"labels":false,"values":[0,20,40,60,80,100,120,140,160,180,200],"tickSize":10}},
"y":{"field":"v","type":"quantitative","scale":{"domain":[216,5157],"reverse":true,"nice":false,"zero":false},"axis":{"orient":"right","title":null,"labels":false,"values":[500,1000,1500,2000,2500,3000,3500,4000,4500,5000],"tickSize":8}}}}
],
"resolve":{"axis":{"x":"independent","y":"independent"}}},
{"width":811,"height":126,"data":{"name":"T"},
"layer":[
{"mark":{"type":"point","shape":"M-0.82,0A0.82,1,0,1,1,0.82,0A0.82,1,0,1,1,-0.82,0Z","filled":true,"size":76,"opacity":1,"strokeWidth":0,"clip":true},
"encoding":{
"x":{"field":"t","type":"quantitative","scale":{"domain":[0,213],"nice":false,"zero":false},"axis":{"orient":"top","title":null,"labels":false,"values":[0,20,40,60,80,100,120,140,160,180,200],"tickSize":10}},
"y":{"field":"v","type":"quantitative","scale":{"domain":[1.04,17.46],"nice":false,"zero":false},"axis":{"orient":"left","title":"Temperature (°C)","values":[2,4,6,8,10,12,14,16],"labelExpr":"datum.value % 4 == 2 ? format(datum.value, '.1f') : ''","tickSize":8,"labelPadding":3,"titlePadding":1}},
"color":{"field":"c","type":"nominal","scale":{"domain":["b","m","c","r"],"range":["#0000ff","#ff00ff","#00ffff","#ff0000"]},"legend":null}}},
{"transform":[{"filter":"datum.t == 0"}],"mark":{"type":"point","opacity":0},
"encoding":{
"x":{"field":"t","type":"quantitative","scale":{"domain":[0,213],"nice":false,"zero":false},"axis":{"orient":"bottom","title":null,"labels":false,"values":[0,20,40,60,80,100,120,140,160,180,200],"tickSize":10}},
"y":{"field":"v","type":"quantitative","scale":{"domain":[1.04,17.46],"nice":false,"zero":false},"axis":{"orient":"right","title":null,"labels":false,"values":[2,4,6,8,10,12,14,16],"tickSize":8}}}}
],
"resolve":{"axis":{"x":"independent","y":"independent"}}},
{"width":811,"height":126,"data":{"name":"s"},
"layer":[
{"mark":{"type":"point","shape":"M-0.82,0A0.82,1,0,1,1,0.82,0A0.82,1,0,1,1,-0.82,0Z","filled":true,"size":76,"opacity":1,"strokeWidth":0,"clip":true},
"encoding":{
"x":{"field":"t","type":"quantitative","scale":{"domain":[0,213],"nice":false,"zero":false},"axis":{"orient":"top","title":null,"labels":false,"values":[0,20,40,60,80,100,120,140,160,180,200],"tickSize":10}},
"y":{"field":"v","type":"quantitative","scale":{"domain":[34.5,35.5],"nice":false,"zero":false},"axis":{"orient":"left","title":"Salinity (psu)","values":[34.5,34.6,34.7,34.8,34.9,35.0,35.1,35.2,35.3,35.4,35.5],"labelExpr":"round(datum.value * 10) % 2 == 0 ? format(datum.value, '.2f') : ''","tickSize":8,"labelPadding":3,"titlePadding":1}},
"color":{"field":"c","type":"nominal","scale":{"domain":["b","m","c","r"],"range":["#0000ff","#ff00ff","#00ffff","#ff0000"]},"legend":null}}},
{"transform":[{"filter":"datum.t == 0"}],"mark":{"type":"point","opacity":0},
"encoding":{
"x":{"field":"t","type":"quantitative","scale":{"domain":[0,213],"nice":false,"zero":false},"axis":{"orient":"bottom","title":"Time (hrs)","values":[0,20,40,60,80,100,120,140,160,180,200],"labelExpr":"datum.value % 40 == 0 ? datum.value + '.' : ''","tickSize":10,"labelPadding":11,"titlePadding":4}},
"y":{"field":"v","type":"quantitative","scale":{"domain":[34.5,35.5],"nice":false,"zero":false},"axis":{"orient":"right","title":null,"labels":false,"values":[34.5,34.6,34.7,34.8,34.9,35.0,35.1,35.2,35.3,35.4,35.5],"tickSize":8}}}}
],
"resolve":{"axis":{"x":"independent","y":"independent"}}}
]
}
